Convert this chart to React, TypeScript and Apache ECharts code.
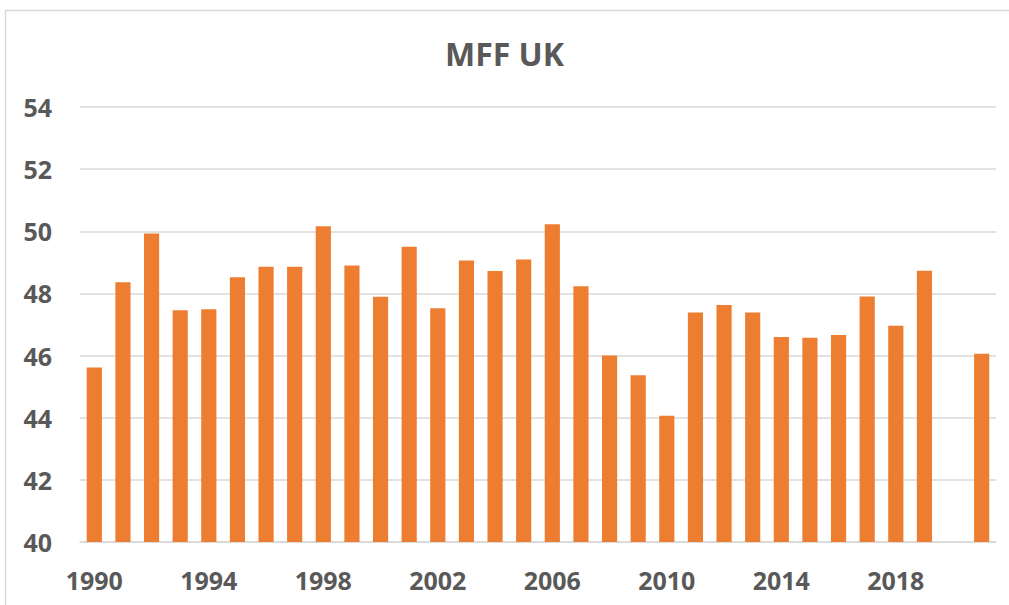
import React, { useEffect, useRef } from "react";
import * as echarts from "echarts";

const years: string[] = [
  "1990","1991","1992","1993","1994","1995","1996","1997","1998","1999",
  "2000","2001","2002","2003","2004","2005","2006","2007","2008","2009",
  "2010","2011","2012","2013","2014","2015","2016","2017","2018","2019",
  "2020","2021",
];
const mffValues: (number | null)[] = [
  45.62, 48.36, 49.93, 47.46, 47.49, 48.52, 48.86, 48.86, 50.16, 48.9,
  47.89, 49.5, 47.52, 49.06, 48.72, 49.09, 50.23, 48.23, 46.0, 45.37,
  44.06, 47.39, 47.63, 47.39, 46.6, 46.57, 46.66, 47.9, 46.96, 48.73,
  null, 46.06,
];
const title = "MFF UK";

export default function App() {
  const ref = useRef<HTMLDivElement>(null);
  useEffect(() => {
    if (!ref.current) return;
    const chart = echarts.init(ref.current, undefined, { renderer: "svg" });
    const font = "'Noto Sans', 'Open Sans', sans-serif";
    chart.setOption({
      animation: false,
      backgroundColor: "#ffffff",
      title: {
        text: title,
        left: "center",
        top: 32,
        textStyle: { fontFamily: font, fontWeight: "bold", fontSize: 32, color: "#595959" },
      },
      graphic: [
        {
          type: "rect",
          shape: { x: 5.5, y: 10.5, width: 1100, height: 700 },
          style: { fill: "none", stroke: "#D9D9D9", lineWidth: 1.5 },
          silent: true,
        },
      ],
      grid: { left: 80, right: 13, top: 107, bottom: 63, containLabel: false },
      xAxis: {
        type: "category",
        data: years,
        boundaryGap: true,
        axisTick: { show: false },
        axisLine: { lineStyle: { color: "#D9D9D9", width: 1.5 } },
        axisLabel: {
          interval: 3,
          margin: 25,
          fontFamily: font,
          fontWeight: "bold",
          fontSize: 25,
          color: "#595959",
        },
      },
      yAxis: {
        type: "value",
        min: 40,
        max: 54,
        interval: 2,
        axisLine: { show: false },
        axisTick: { show: false },
        splitLine: { lineStyle: { color: "#D9D9D9", width: 1.5 } },
        axisLabel: {
          margin: 28,
          fontFamily: font,
          fontWeight: "bold",
          fontSize: 25,
          color: "#595959",
        },
      },
      series: [
        {
          type: "bar",
          data: mffValues,
          barWidth: "53%",
          itemStyle: { color: "#ED7D31" },
        },
      ],
    });
    return () => chart.dispose();
  }, []);
  return (
    <div
      ref={ref}
      style={{ position: "fixed", left: 0, top: 0, width: 1009, height: 605 }}
    />
  );
}
